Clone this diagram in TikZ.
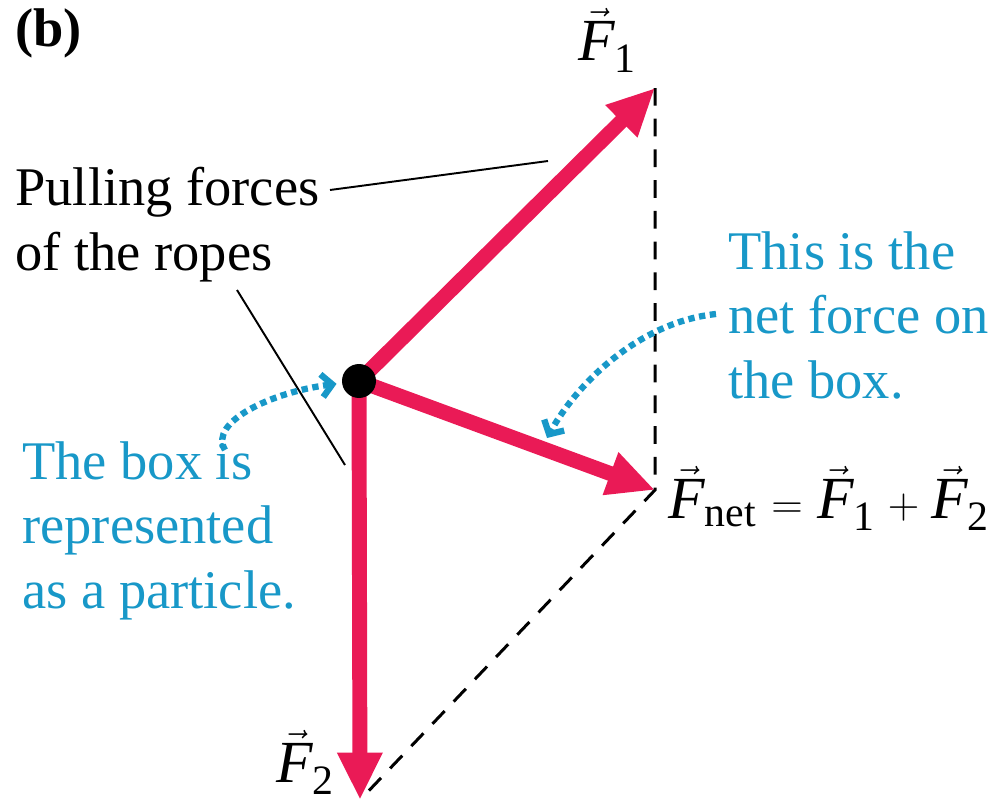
\documentclass[tikz,border=0pt]{standalone}
\usepackage{fontspec}
\setmainfont{Liberation Serif}
\usetikzlibrary{arrows.meta}

\definecolor{forcered}{RGB}{234,26,86}
\definecolor{noteblue}{RGB}{24,152,200}
\newcommand{\vF}{\vec{\mathit{F}}}

\begin{document}
\begin{tikzpicture}[
		x=0.02cm, y=-0.02cm,
		% Estilos de texto
		label_txt/.style={font=\fontsize{31}{36.5}\selectfont, align=left, inner sep=0pt, anchor=base west},
		note_txt/.style={label_txt, text=noteblue},
		math_txt/.style={label_txt, font=\fontsize{34}{40}\selectfont},
		% Estilos de flechas
		force_arrow/.style={-{Triangle[length=27pt,width=24pt]}, line width=8.5pt, draw=forcered},
		note_arrow/.style={-{Straight Barb[length=6pt,width=13pt]}, line width=3.6pt, draw=noteblue, dash pattern=on 3.6pt off 2.6pt},
		leader/.style={line width=1.1pt, draw=black},
		sum_line/.style={line width=1.7pt, draw=black, dash pattern=on 10pt off 7.5pt},
		particle/.style={circle, fill=black, inner sep=0pt, minimum size=0.68cm}
		]
		\useasboundingbox (0,0) rectangle (1001,808);
		
		% --- PUNTOS DE LAS FUERZAS ---
		\coordinate (origin) at (359,381);
		\coordinate (tip1) at (655,88);
		\coordinate (tip2) at (360,800);
		\coordinate (tipnet) at (655,490);
		
		% Lineas discontinuas del paralelogramo
		\draw[sum_line] (tip1) -- (tipnet) -- (tip2);
		
		% --- FLECHAS DE FUERZA ---
		\draw[force_arrow] (origin) -- (tip1);
		\draw[force_arrow] (origin) -- (tip2);
		\draw[force_arrow] (origin) -- (tipnet);
		\node[particle] (box) at (origin) {};
		
		% --- ETIQUETAS ---
		\node[label_txt, font=\fontsize{31}{36.5}\selectfont\bfseries] (part) at (15,47) {(b)};
		\node[math_txt] (lblF1) at (578,60) {$\vF_{\mathrm{1}}$};
		\node[math_txt] (lblF2) at (276,782) {$\vF_{\mathrm{2}}$};
		\node[math_txt] (lblnet) at (668,518) {$\vF_{\mathrm{net}} \mkern1mu=\mkern1mu \vF_{\mathrm{1}} \mkern1mu+\mkern1mu \vF_{\mathrm{2}}$};
		
		% el ancla base queda en la ultima linea
		\node[label_txt] (pull) at (15,270) {Pulling forces\\of the ropes};
		\node[note_txt] (netnote) at (728,398) {This is the\\net force on\\the box.};
		\node[note_txt] (boxnote) at (22,608) {The box is\\represented\\as a particle.};
		
		% Lineas guia
		\coordinate (lead1a) at (330,190);
		\coordinate (lead1b) at (548,161);
		\coordinate (lead2a) at (237,290);
		\coordinate (lead2b) at (345,465);
		\draw[leader] (lead1a) -- (lead1b);
		\draw[leader] (lead2a) -- (lead2b);
		
		% Flechas punteadas de las notas
		\coordinate (net_tail) at (716,314);
		\coordinate (net_head) at (547,438);
		\draw[note_arrow] (net_tail) .. controls (640,322) and (578,382) .. (net_head);
		\coordinate (box_tail) at (225,450);
		\draw[note_arrow, shorten >=3pt] (box_tail) .. controls (208,422) and (272,392) .. (box);
		
	\end{tikzpicture}
\end{document}
